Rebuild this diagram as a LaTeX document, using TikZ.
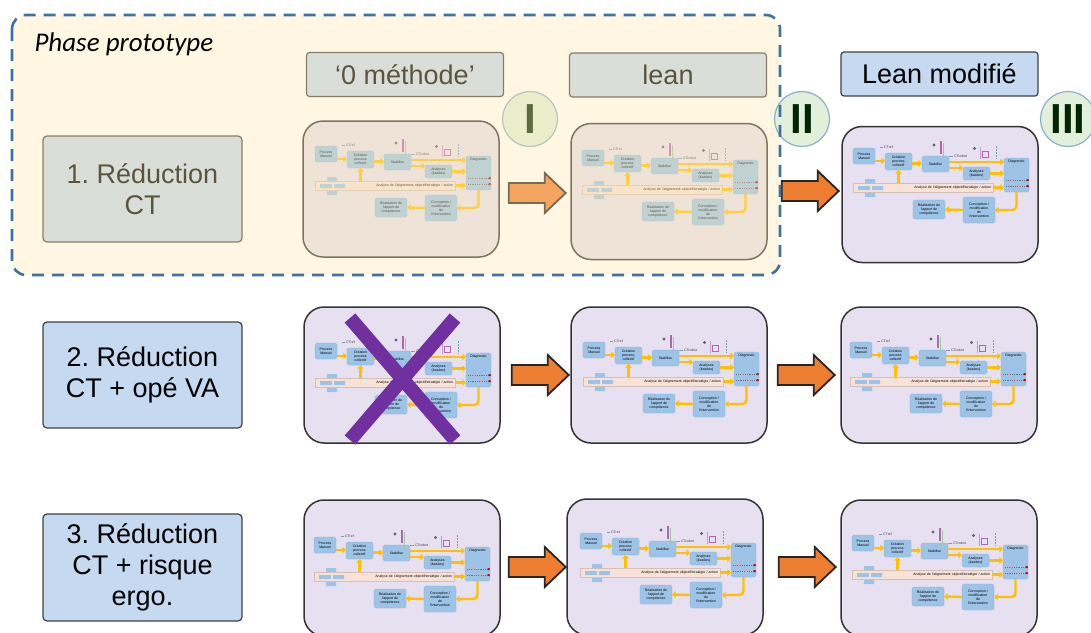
\documentclass[tikz,border=0pt]{standalone}
\usepackage{fontspec}
\setmainfont{Liberation Sans}
\newfontfamily\calibri{Carlito}
\usetikzlibrary{arrows.meta,calc}
\frenchspacing
\definecolor{veil}{HTML}{FFEAB0}
\definecolor{dashblue}{HTML}{41719C}
\definecolor{lblblue}{HTML}{C5DAF0}
\definecolor{thumbfill}{HTML}{E6E0F0}
\definecolor{circfill}{HTML}{E2EFDA}
\definecolor{circline}{HTML}{8FAFC8}
\definecolor{arrorange}{HTML}{ED7D31}
\definecolor{crosspurple}{HTML}{7030A0}
\definecolor{flowyellow}{HTML}{FFC000}
\definecolor{miniblue}{HTML}{9DC3E6}
\definecolor{minipink}{HTML}{F8E2D8}
\newcommand\minifont{\fontsize{3.5}{3.9}\selectfont}

\tikzset{
  minibox/.style={draw=miniblue!90!black, fill=miniblue, rounded corners=1.5pt, line width=0.3pt, inner sep=0pt, align=center, font=\minifont},
  flowarr/.style={draw=flowyellow, line width=2.4pt, -{Triangle[length=3.5pt,width=6.5pt]}},
  pics/miniflow/.style={code={
    \node[minibox, minimum width=22, minimum height=16] (-pm) at (23,43) {Process\\Manuel};
    \node[minibox, minimum width=27, minimum height=17] (-cp) at (57.5,48.5) {Création\\process\\collectif};
    \node[minibox, minimum width=27, minimum height=16] (-st) at (94.5,51) {Stabilise};
    \node[minibox, minimum width=27, minimum height=13] (-an) at (135.5,60.5) {Analyses\\(basées)};
    \node[minibox, minimum width=25, minimum height=34] (-dg) at (175.5,62) {};
    \node[font=\minifont, inner sep=0pt] (-dgt) at (175.5,49) {Diagnostic};
    \node[draw=minipink!85!black, fill=minipink, line width=0.3pt, minimum width=140, minimum height=9, inner sep=1pt, text width=136, align=right, font=\minifont] (-bd) at (82,74.5) {Analyse de l'alignement objectif/stratégie / action};
    \fill[miniblue] (24,66) rectangle (34,70) (17,73) rectangle (29,77) (31,73) rectangle (42,77) (24,80) rectangle (34,84);
    \node[minibox, minimum width=32, minimum height=19] (-re) at (88,96.5) {Réalisation de\\l'apport de\\compétence};
    \node[minibox, minimum width=32, minimum height=26] (-co) at (138,97) {Conception /\\modification\\de\\l'intervention};
    \node[font=\minifont, text=black!75, inner sep=0pt, anchor=west] (-ctr) at (43,34) {CTref};
    \node[font=\minifont, text=black!75, inner sep=0pt, anchor=west] (-ctc) at (113,43) {CTcobot};
    \draw[miniblue!80!black, line width=0.4pt] (39,34) -- (41.5,34) (108,43) -- (111.5,43);
    \fill[black!60] (93,32) circle (1.6pt) (133.5,35.5) circle (1.6pt);
    \draw[violet!60, line width=1.2pt] (100,28) -- (100,41);
    \draw[green!50!black!40, line width=1.2pt] (102.5,30) -- (102.5,45);
    \draw[violet!60, line width=0.4pt] (141,38) rectangle (147,44);
    \draw[violet!40, line width=0.3pt] (139.5,34) -- (139.5,46);
    \draw[miniblue!80!black, line width=0.4pt, dash pattern=on 1.5pt off 1.5pt] (155,33) -- (155,46);
    \draw[miniblue!60!black, line width=0.3pt, dash pattern=on 1pt off 0.8pt] (165,67) -- (187,67) (165,73) -- (187,73);
    \fill[red!80!black] (185.5,66) rectangle (187.5,68) (185.5,72) rectangle (187.5,74);
    \fill[red!40] (170,66) rectangle (172,68) (177,72) rectangle (179,74);
    \draw[flowarr] ([yshift=-5pt]-pm.east) -- ([yshift=0.5pt]-cp.west);
    \draw[flowarr] ([yshift=-2pt]-cp.east) -- ([yshift=0.5pt]-st.west);
    \draw[flowarr] ([yshift=2pt]-st.east) -- ([yshift=13pt]-dg.west);
    \draw[flowarr] ([yshift=-4pt]-st.east) -- ([yshift=5.5pt]-an.west);
    \draw[flowarr] (-an.east) -- ([yshift=1.5pt]-dg.west);
    \draw[flowarr] (-bd.east) -- ([yshift=-12.5pt]-dg.west);
    \draw[flowarr] (-cp.south) ++(0,13) -- (-cp.south);
    \draw[flowarr, rounded corners=4pt] (-dg.south) |- (-co.east);
    \draw[flowarr] (-co.west) -- (-re.east);
  }},
  pics/bigarrow/.style={code={
    \draw[draw=black!85, line width=1.8pt, fill=arrorange, line join=miter] (0,-10) -- (36,-10) -- (36,-20) -- (57,0) -- (36,20) -- (36,10) -- (0,10) -- cycle;
  }}
}

\begin{document}
\begin{tikzpicture}[x=1pt, y=-1pt,
  rowlabel/.style={draw=black!75, line width=1.2pt, fill=lblblue, rounded corners=4pt, minimum width=199, minimum height=106, align=center, font=\fontsize{27}{31}\selectfont},
  header/.style={draw=black!75, line width=1.2pt, fill=lblblue, rounded corners=3pt, minimum width=197, minimum height=44, font=\fontsize{27}{31}\selectfont},
  thumb/.style={draw=black!80, line width=1.5pt, fill=thumbfill, rounded corners=20pt, minimum width=196, minimum height=136},
  numcirc/.style={circle, draw=circline, line width=1.2pt, fill=circfill, minimum size=55, inner sep=0pt, text=black!85!green, font=\fontsize{42}{42}\selectfont\bfseries}]
\useasboundingbox (0,0) rectangle (1091,632);
\node[rowlabel] (r1) at (142.5,189) {1. Réduction\\CT};
\node[rowlabel] (r2) at (142.5,375) {2. Réduction\\CT + opé VA};
\node[rowlabel, minimum height=107] (r3) at (142.5,567.5) {3. Réduction\\CT + risque\\ergo.};
\node[header] (h0) at (405,74.5) {‘0 méthode’};
\node[header] (h1) at (668,75) {lean};
\node[header] (h2) at (939.5,74) {Lean modifié};
\node[thumb] (t11) at (401,189) {};
\node[thumb] (t12) at (669,191.5) {};
\node[thumb] (t13) at (940,194.5) {};
\node[thumb] (t21) at (402,375) {};
\node[thumb] (t22) at (669,375) {};
\node[thumb] (t23) at (939,375) {};
\node[thumb] (t31) at (402,568) {};
\node[thumb] (t32) at (665,567) {};
\node[thumb] (t33) at (939,568) {};
\pic (f11) at (303,111) {miniflow};
\pic (f12) at (570,115) {miniflow};
\pic (f13) at (841,113) {miniflow};
\pic (f21) at (303,308) {miniflow};
\pic (f22) at (571,307) {miniflow};
\pic (f23) at (838,307) {miniflow};
\pic (f31) at (302,502) {miniflow};
\pic (f32) at (568,498) {miniflow};
\pic (f33) at (840,500) {miniflow};
\pic at ($(t11.east)+(9,4)$) {bigarrow};
\pic at ($(t12.east)+(14,-0.5)$) {bigarrow};
\pic at ($(t21.east)+(11,0)$) {bigarrow};
\pic at ($(t22.east)+(10,0)$) {bigarrow};
\pic at ($(t31.east)+(8,-1)$) {bigarrow};
\pic at ($(t32.east)+(15,0)$) {bigarrow};
\node[numcirc] (n1) at (530,119) {I};
\draw[crosspurple, line width=14pt] (350,318) -- (455,440) (455,318) -- (350,440);
\fill[veil, fill opacity=0.36, rounded corners=14pt] (12,15) rectangle (780,275);
\node[numcirc] (n2) at (802,119) {II};
\node[numcirc] (n3) at (1068,119) {III};
\draw[dashblue, line width=2.6pt, dash pattern=on 12pt off 8pt, rounded corners=14pt] (12,15) rectangle (780,275);
\node[anchor=west, font=\calibri\itshape\fontsize{27}{31}\selectfont] (ph) at (31,44) {Phase prototype};
\end{tikzpicture}
\end{document}
